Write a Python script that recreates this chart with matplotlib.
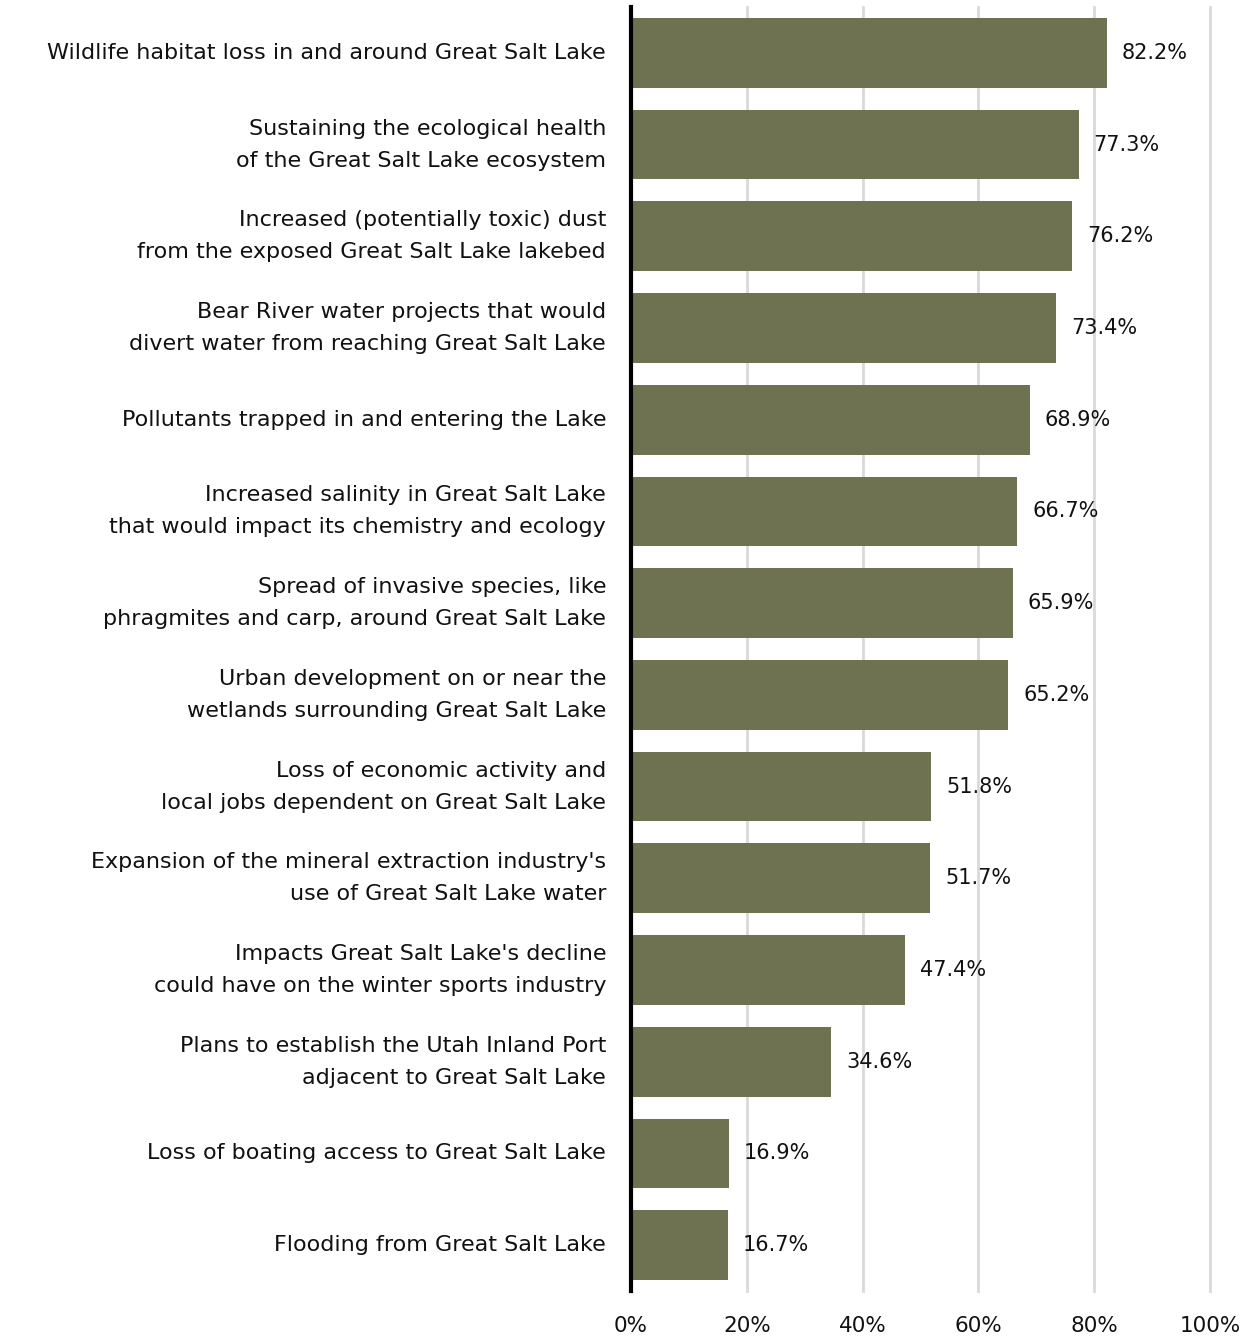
import matplotlib
matplotlib.use("Agg")
import matplotlib.pyplot as plt

categories = [
    "Wildlife habitat loss in and around Great Salt Lake",
    "Sustaining the ecological health\nof the Great Salt Lake ecosystem",
    "Increased (potentially toxic) dust\nfrom the exposed Great Salt Lake lakebed",
    "Bear River water projects that would\ndivert water from reaching Great Salt Lake",
    "Pollutants trapped in and entering the Lake",
    "Increased salinity in Great Salt Lake\nthat would impact its chemistry and ecology",
    "Spread of invasive species, like\nphragmites and carp, around Great Salt Lake",
    "Urban development on or near the\nwetlands surrounding Great Salt Lake",
    "Loss of economic activity and\nlocal jobs dependent on Great Salt Lake",
    "Expansion of the mineral extraction industry's\nuse of Great Salt Lake water",
    "Impacts Great Salt Lake's decline\ncould have on the winter sports industry",
    "Plans to establish the Utah Inland Port\nadjacent to Great Salt Lake",
    "Loss of boating access to Great Salt Lake",
    "Flooding from Great Salt Lake",
]
values = [82.2, 77.3, 76.2, 73.4, 68.9, 66.7, 65.9, 65.2, 51.8, 51.7, 47.4, 34.6, 16.9, 16.7]
xticks = [0, 20, 40, 60, 80, 100]
xtick_labels = ["0%", "20%", "40%", "60%", "80%", "100%"]

plt.rcParams['font.family'] = ['DejaVu Sans']

fig = plt.figure(figsize=(12.51, 13.39), dpi=100)
ax = fig.add_axes([0.5044, 0.0358, 0.4628, 0.959])

bar_color = "#6F7250"
y = list(range(len(categories)))
ax.barh(y, values, height=0.76, color=bar_color, zorder=3)

for yi, v in zip(y, values):
    ax.annotate(f"{v}%", xy=(v, yi), xytext=(15, 0), textcoords="offset pixels",
                va="center", ha="left", fontsize=15, color="#111111")

ax.set_ylim(len(categories) - 0.5, -0.5)
ax.set_xlim(0, 100)
ax.set_yticks(y)
ax.set_yticklabels(categories, fontsize=16, linespacing=1.75, color="#111111", va="center")
ax.set_xticks(xticks)
ax.set_xticklabels(xtick_labels, fontsize=15.5, color="#111111")
ax.tick_params(axis="y", length=0, pad=18)
ax.tick_params(axis="x", length=0, pad=18)

ax.grid(axis="x", color="#D9D9D9", linewidth=2, zorder=0)
for gl in ax.get_xgridlines():
    gl.set_clip_on(False)
ax.set_axisbelow(True)
for s in ["top", "right", "bottom"]:
    ax.spines[s].set_visible(False)
ax.spines["left"].set_linewidth(3)
ax.spines["left"].set_color("black")
ax.spines["left"].set_zorder(5)

fig.savefig("out.png", dpi=100, facecolor="white")
